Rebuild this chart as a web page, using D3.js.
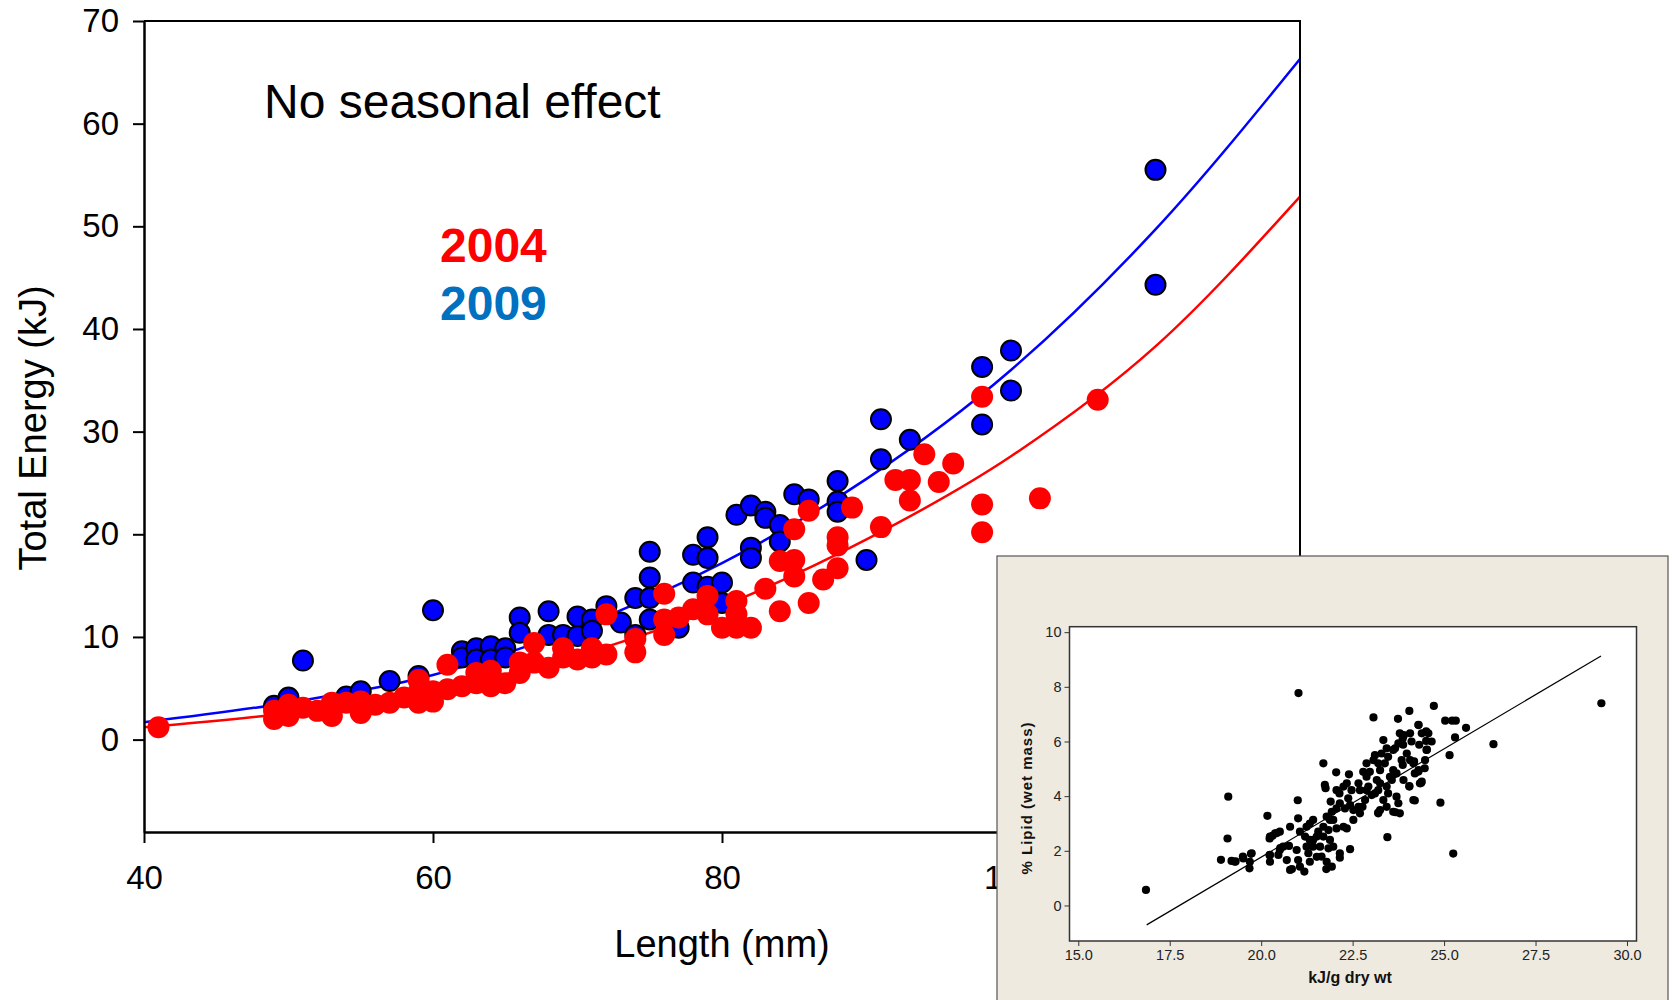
<!DOCTYPE html>
<html>
<head>
<meta charset="utf-8">
<script src="https://cdn.jsdelivr.net/npm/d3@7"></script>
<style>
  body { margin: 0; background: #fff; }
  text { font-family: "Liberation Sans", Arial, sans-serif; }
</style>
</head>
<body>
<script>
// main chart: total energy vs length, two years
const xTicks = [40, 60, 80, 100, 120];
const yTicks = [0, 10, 20, 30, 40, 50, 60, 70];

// [length mm, energy kJ]
const pts2009 = [
  [49,3.3],[50,4.1],[51,7.7],[54,4.2],[55,4.7],[57,5.7],[59,6.2],[60,12.6],[62,8.6],[62,8.0],
  [63,8.9],[63,7.8],[64,9.1],[64,7.8],[65,8.9],[65,8.0],[66,11.9],[66,10.4],[68,12.5],[68,10.2],
  [69,10.2],[70,12.0],[70,10.1],[71,11.7],[71,10.6],[72,13.0],[73,11.4],[74,13.8],[74,10.2],
  [75,18.3],[75,15.8],[75,13.8],[75,11.7],[77,10.9],[78,18.0],[78,15.3],[79,19.7],[79,17.7],
  [79,14.9],[80,15.3],[80,13.3],[81,21.9],[82,22.8],[82,18.7],[82,17.7],[83,22.2],[83,21.6],
  [84,20.9],[84,19.3],[85,23.9],[86,23.4],[88,25.2],[88,23.2],[88,22.2],[90,17.5],[91,31.2],
  [91,27.3],[93,29.2],[98,36.3],[98,30.7],[100,37.9],[100,34.0],[110,55.5],[110,44.3]
];

const pts2004 = [
  [41,1.2],[49,2.8],[49,2.0],[50,3.4],[50,2.3],[51,3.1],[52,2.8],[53,3.6],[53,2.3],[54,3.6],
  [55,3.7],[55,2.6],[56,3.4],[57,3.6],[58,4.1],[59,4.6],[59,3.6],[59,5.8],[60,4.7],[60,3.7],
  [61,7.3],[61,4.9],[62,5.2],[63,6.5],[63,5.5],[64,6.7],[64,5.2],[65,5.5],[66,6.5],[66,7.5],
  [67,9.4],[67,7.5],[68,7.0],[69,8.0],[69,8.9],[70,7.8],[71,8.0],[71,8.9],[72,12.2],[72,8.3],
  [74,8.5],[74,9.8],[76,14.2],[76,11.7],[76,10.2],[77,11.9],[78,12.7],[79,14.0],[79,12.2],
  [80,10.9],[81,13.5],[81,12.2],[81,10.9],[82,10.9],[83,14.7],[84,17.4],[84,12.5],[85,20.5],
  [85,17.5],[85,15.9],[86,22.3],[86,13.3],[87,15.6],[88,19.7],[88,18.9],[88,16.7],[89,22.6],
  [91,20.7],[92,25.3],[93,25.3],[93,23.3],[94,27.8],[95,25.1],[96,26.9],[98,33.4],[98,22.9],
  [98,20.2],[102,23.5],[106,33.1]
];

// fitted curves
const fit2009 = [[40,1.7],[50,3.6],[60,6.3],[70,10.9],[80,17.2],[90,25.4],[100,36.0],[110,49.7],[120,66.3]];
const fit2004 = [[40,1.2],[50,2.6],[60,4.8],[70,8.2],[80,13.0],[90,19.5],[100,27.6],[110,38.3],[120,52.9]];

// inset: % lipid vs kJ/g dry wt
const insetXTicks = [15, 17.5, 20, 22.5, 25, 27.5, 30];
const insetYTicks = [0, 2, 4, 6, 8, 10];
const insetLine = [[16.87,-0.71],[29.29,9.13]];
const insetPts = [
  [16.85,0.57],[21.02,7.77],[29.3,7.4],[26.35,5.9],[25.25,1.9],[23.45,2.5],[24.9,3.76],[19.1,3.98],
  [19.08,2.45],[18.9,1.67],[20.17,3.28],[21.0,3.85],[21.7,5.2],[22.05,4.87],[22.4,4.8],[23.07,6.88],
  [23.74,6.83],[24.05,7.12],[24.72,7.3],[25.03,6.76],[25.22,6.76],[25.32,6.76],[25.6,6.5],[25.3,6.15],
  [25.15,5.5],[24.37,4.48],[24.2,3.84],[24.05,4.37],[23.67,3.41],[23.2,3.4],[22.43,2.06],[22.15,1.75],
  [21.93,1.42],[21.78,1.33],[21.18,1.24],[20.84,1.33],
  [19.19,1.63],[19.28,1.6],[19.51,1.72],[19.69,1.6],[19.74,1.91],[19.68,1.36],[20.24,1.85],[20.24,1.6],
  [20.47,1.85],[20.51,2.03],[20.6,2.15],[20.7,1.66],[20.97,2.03],[21.01,1.66],[20.79,1.3],[21.06,1.42],
  [21.52,1.78],[21.33,1.6],[21.42,2.15],[21.24,2.15],[21.33,2.4],[21.65,1.79],[21.79,1.6],[21.61,2.15],
  [22.15,1.91],[20.23,1.84],[20.52,2.1],[20.76,2.18],[20.43,2.65],[20.31,2.55],[20.23,2.45],[19.72,1.89],
  [19.5,1.79],[19.3,1.61],
  [20.24,2.52],[20.38,2.64],[20.51,2.7],[20.79,2.88],[21.01,3.19],[21.06,2.7],[21.2,2.52],[21.24,2.88],
  [21.33,3.0],[21.42,3.13],[21.52,2.52],[21.7,2.88],[21.79,3.25],[21.84,2.76],[21.97,3.13],[22.06,2.82],
  [22.25,2.88],[22.34,2.82],[21.42,2.4],[21.7,2.52],[21.88,2.4],[21.97,2.15],[21.29,1.91],[21.84,2.09],
  [21.56,2.7],
  [21.74,4.41],[21.76,4.29],[21.9,3.8],[22.06,4.22],[22.14,4.1],[22.25,4.35],[22.38,3.92],[22.43,3.67],
  [22.52,3.49],[22.7,3.37],[22.77,3.61],[22.84,3.86],[22.88,4.22],[22.93,4.35],[23.02,4.04],[22.79,4.89],
  [23.16,4.59],[23.2,4.22],[23.25,3.49],[23.34,3.86],[23.43,4.35],[23.47,4.1],[23.57,4.59],[23.61,4.95],
  [23.7,3.98],[23.75,3.74],[23.79,3.37],[23.7,4.83],[23.07,5.32],[23.11,5.5],[23.2,5.2],[23.29,5.56],
  [23.38,5.2],[23.47,5.44],[23.66,5.75],[23.75,5.93],[23.84,5.32],[23.87,5.14],[23.98,5.56],[24.07,5.32],
  [24.16,5.2],[24.2,4.83],[24.3,4.95],[24.34,4.47],[24.48,5.32],[24.52,5.69],[24.57,6.3],[24.66,6.0],
  [24.3,6.6],[24.39,6.3],[24.07,6.3],[23.9,6.23],[23.79,6.3],[23.87,6.11],[24.11,6.0],[23.34,6.05],
  [23.43,5.75],[23.61,5.69],[24.16,3.86],[24.05,4.35],[24.39,4.53],[22.88,4.71],[22.97,4.89],[22.66,4.47],
  [22.47,4.22],[22.34,4.47],[22.15,3.74],[22.29,3.55],[22.06,3.55],[21.93,3.43],[21.88,3.13],[22.52,3.13],
  [22.66,3.61],[23.11,4.1],[23.25,4.47],[23.52,4.71],[23.89,4.59],[22.88,5.2],[23.25,4.95],[22.7,4.22],
  [23.2,3.37],[23.61,3.43],[23.43,3.61],
  [24.47,5.02],[24.53,5.7],[24.51,6.02],[24.32,5.88],[24.18,5.27],[24.3,4.9],[23.88,5.88],[24.51,6.37],
  [24.3,6.61]
];

const W = 1672, H = 1000;
const svg = d3.select("body").append("svg")
  .attr("width", W).attr("height", H);

svg.append("rect").attr("width", W).attr("height", H).attr("fill", "#fff");

const plotLeft = 144, plotRight = 1300, plotTop = 21, plotBottom = 832;

const x = d3.scaleLinear().domain([40, 120]).range([plotLeft, plotRight]);
const y = d3.scaleLinear().domain([-9, 70]).range([plotBottom, plotTop]);

// lines
const line = d3.line()
  .x(d => x(d[0])).y(d => y(d[1]))
  .curve(d3.curveMonotoneX);

svg.append("path").datum(fit2009)
  .attr("d", line).attr("fill", "none")
  .attr("stroke", "#0000FF").attr("stroke-width", 2.5);

svg.append("path").datum(fit2004)
  .attr("d", line).attr("fill", "none")
  .attr("stroke", "#FF0000").attr("stroke-width", 2.5);

svg.append("g").selectAll("circle")
  .data(pts2009).join("circle")
  .attr("cx", d => x(d[0])).attr("cy", d => y(d[1]))
  .attr("r", 10)
  .attr("fill", "#0000FF")
  .attr("stroke", "#000").attr("stroke-width", 2);

svg.append("g").selectAll("circle")
  .data(pts2004).join("circle")
  .attr("cx", d => x(d[0])).attr("cy", d => y(d[1]))
  .attr("r", 11)
  .attr("fill", "#FF0000");

// box (top + right)
svg.append("path")
  .attr("d", `M${plotLeft},${plotTop}H${plotRight}V${plotBottom}`)
  .attr("fill", "none").attr("stroke", "#000").attr("stroke-width", 2);

const xAxis = svg.append("g")
  .attr("transform", `translate(0,${plotBottom})`)
  .call(d3.axisBottom(x).tickValues(xTicks).tickSize(11).tickPadding(23).tickSizeOuter(0));

const yAxis = svg.append("g")
  .attr("transform", `translate(${plotLeft},0)`)
  .call(d3.axisLeft(y).tickValues(yTicks).tickSize(11).tickPadding(14).tickSizeOuter(0));

[xAxis, yAxis].forEach(g => {
  g.select(".domain").attr("stroke-width", 2.5);
  g.selectAll(".tick line").attr("stroke-width", 2);
  g.selectAll(".tick text")
    .attr("font-size", 33)
    .attr("font-family", "'Liberation Sans', Arial, sans-serif")
    .attr("fill", "#000");
});

svg.append("text")
  .attr("x", 722).attr("y", 957)
  .attr("text-anchor", "middle")
  .attr("font-size", 38)
  .text("Length (mm)");

svg.append("text")
  .attr("transform", "translate(46,428) rotate(-90)")
  .attr("text-anchor", "middle")
  .attr("font-size", 38)
  .text("Total Energy (kJ)");

svg.append("text")
  .attr("x", 264).attr("y", 118)
  .attr("font-size", 48)
  .text("No seasonal effect");

svg.append("text")
  .attr("x", 440).attr("y", 262)
  .attr("font-size", 48).attr("font-weight", "bold")
  .attr("fill", "#FF0000")
  .text("2004");

svg.append("text")
  .attr("x", 440).attr("y", 320)
  .attr("font-size", 48).attr("font-weight", "bold")
  .attr("fill", "#0070C0")
  .text("2009");

// inset panel
const inset = svg.append("g");
inset.append("rect")
  .attr("x", 997).attr("y", 556)
  .attr("width", 671).attr("height", 460)
  .attr("fill", "#EEEAE0")
  .attr("stroke", "#555").attr("stroke-width", 1.2);

const iL = 1069.5, iR = 1636.5, iT = 626.7, iB = 941;
const ix = d3.scaleLinear().domain([14.76, 30.26]).range([iL, iR]);
const iy = d3.scaleLinear().domain([-1.3, 10.2]).range([iB, iT]);

inset.append("rect")
  .attr("x", iL).attr("y", iT)
  .attr("width", iR - iL).attr("height", iB - iT)
  .attr("fill", "#fff")
  .attr("stroke", "#333").attr("stroke-width", 1.5);

inset.append("line")
  .attr("x1", ix(insetLine[0][0])).attr("y1", iy(insetLine[0][1]))
  .attr("x2", ix(insetLine[1][0])).attr("y2", iy(insetLine[1][1]))
  .attr("stroke", "#000").attr("stroke-width", 1.2);

inset.append("g").selectAll("circle")
  .data(insetPts).join("circle")
  .attr("cx", d => ix(d[0])).attr("cy", d => iy(d[1]))
  .attr("r", 4.1)
  .attr("fill", "#000");

const ixAxis = inset.append("g")
  .attr("transform", `translate(0,${iB})`)
  .call(d3.axisBottom(ix).tickValues(insetXTicks).tickFormat(d3.format(".1f"))
    .tickSize(5).tickPadding(4).tickSizeOuter(0));

const iyAxis = inset.append("g")
  .attr("transform", `translate(${iL},0)`)
  .call(d3.axisLeft(iy).tickValues(insetYTicks).tickSize(5).tickPadding(3).tickSizeOuter(0));

[ixAxis, iyAxis].forEach(g => {
  g.select(".domain").remove();
  g.selectAll(".tick line").attr("stroke", "#333");
  g.selectAll(".tick text")
    .attr("font-size", 14.5)
    .attr("font-family", "'Liberation Sans', Arial, sans-serif")
    .attr("fill", "#222");
});

inset.append("text")
  .attr("x", 1350).attr("y", 983)
  .attr("text-anchor", "middle")
  .attr("font-size", 16).attr("font-weight", "bold")
  .attr("fill", "#111")
  .text("kJ/g dry wt");

inset.append("text")
  .attr("transform", "translate(1032,798) rotate(-90)")
  .attr("text-anchor", "middle")
  .attr("font-size", 15).attr("font-weight", "bold")
  .attr("letter-spacing", 1)
  .attr("fill", "#111")
  .text("% Lipid (wet mass)");
</script>
</body>
</html>
